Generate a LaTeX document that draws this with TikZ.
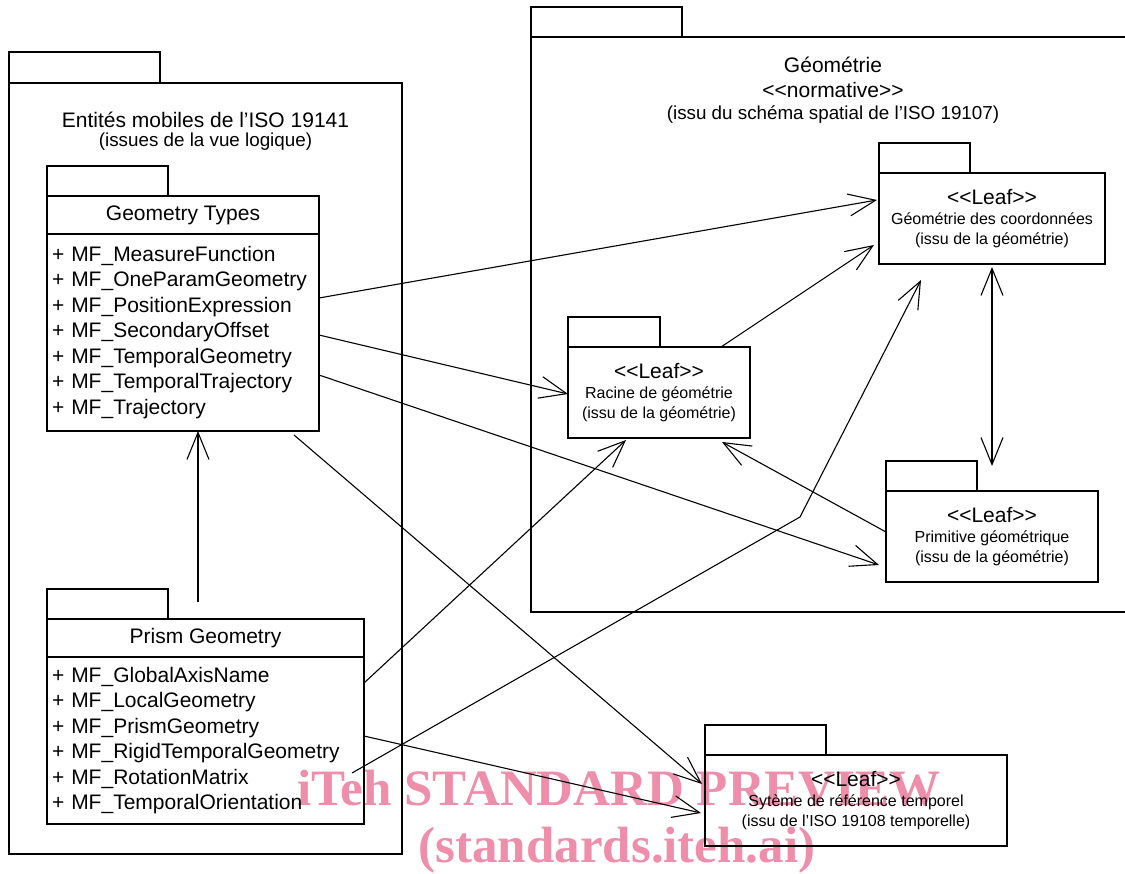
\documentclass[tikz,border=0pt]{standalone}
\usepackage{fontspec}
\setmainfont{Liberation Sans}
\newfontfamily\wmfont{Liberation Serif}
\usepackage{tikz}
\usetikzlibrary{arrows.meta,positioning}

\definecolor{wmpink}{RGB}{238,142,170}
\newcommand\attrfont{\fontsize{21}{25.5}\selectfont}
\newcommand\subfont{\fontsize{18.8}{22}\selectfont}
\newcommand\leaffont{\fontsize{16}{20}\selectfont}
\newcommand\stereo[1]{<\kern0pt<#1>\kern0pt>}

\begin{document}
\begin{tikzpicture}[x=1pt, y=-1pt, line width=1.1pt,
  pkgbox/.style = {draw, rectangle, inner sep=0pt, outer sep=0pt,
    anchor=north west},
  pkgtab/.style = {draw, rectangle, inner sep=0pt, outer sep=0pt,
    anchor=south west, minimum height=30pt},
  leafbox/.style = {pkgbox, align=center, font=\leaffont,
    minimum height=91pt},
  classhead/.style = {pkgbox, font=\attrfont, minimum height=38pt},
  classattr/.style = {draw, rectangle, outer sep=0pt, inner xsep=5pt,
    inner ysep=0pt, align=left, font=\attrfont, anchor=north west},
  title/.style = {inner sep=0pt, font=\attrfont},
  dep/.style = {-{Straight Barb[length=27pt,width=22pt]}},
  watermark/.style = {inner sep=0pt, anchor=base, text=wmpink,
    font=\wmfont\bfseries\fontsize{51}{55}\selectfont}]
  \useasboundingbox (0,0) rectangle (1125,874);

  % watermark
  \node[watermark] (wmtop) at (619,805) {iTeh STANDARD PREVIEW};
  \node[watermark] (wmbot) at (617,862) {(standards.iteh.ai)};

  % left package
  \node[pkgbox, minimum width=393pt, minimum height=771pt] (mobbody) at (9,83) {};
  \node[pkgtab, minimum width=151pt, minimum height=31pt] (mobtab) at (mobbody.north west) {};
  \node[title] (mobtitle) at (205.5,120) {Entités mobiles de l’ISO 19141};
  \node[title, font=\subfont] (mobsub) at (205.5,142) {(issues de la vue logique)};

  \node[classhead, minimum width=272pt] (gthead) at (47,196) {Geometry Types};
  \node[pkgtab, minimum width=121pt] (gttab) at (gthead.north west) {};
  \node[classattr, text width=262pt, minimum height=197pt] (gtattr) at (gthead.south west)
    {+ MF\_MeasureFunction\\ + MF\_OneParamGeometry\\ + MF\_PositionExpression\\
     + MF\_SecondaryOffset\\ + MF\_TemporalGeometry\\ + MF\_TemporalTrajectory\\
     + MF\_Trajectory};

  \node[classhead, minimum width=317pt] (prismhead) at (47,619) {Prism Geometry};
  \node[pkgtab, minimum width=121pt] (prismtab) at (prismhead.north west) {};
  \node[classattr, text width=307pt, minimum height=167pt] (prismattr) at (prismhead.south west)
    {+ MF\_GlobalAxisName\\ + MF\_LocalGeometry\\ + MF\_PrismGeometry\\
     + MF\_RigidTemporalGeometry\\ + MF\_RotationMatrix\\ + MF\_TemporalOrientation};

  % right package
  \node[pkgbox, minimum width=599pt, minimum height=575pt] (geobody) at (531,37) {};
  \node[pkgtab, minimum width=151pt] (geotab) at (geobody.north west) {};
  \node[title] (geotitle) at (833,65) {Géométrie};
  \node[title] (geostereo) at (833,90) {\stereo{normative}};
  \node[title, font=\subfont] (geosub) at (833,115) {(issu du schéma spatial de l’ISO 19107)};

  \node[leafbox, minimum width=226pt] (coordbody) at (879,173)
    {{\attrfont\stereo{Leaf}}\\ Géométrie des coordonnées\\ (issu de la géométrie)};
  \node[pkgtab, minimum width=91pt] (coordtab) at (coordbody.north west) {};

  \node[leafbox, minimum width=182pt] (racinebody) at (568,347)
    {{\attrfont\stereo{Leaf}}\\ Racine de géométrie\\ (issu de la géométrie)};
  \node[pkgtab, minimum width=92pt] (racinetab) at (racinebody.north west) {};

  \node[leafbox, minimum width=212pt] (primbody) at (886,491)
    {{\attrfont\stereo{Leaf}}\\ Primitive géométrique\\ (issu de la géométrie)};
  \node[pkgtab, minimum width=91pt] (primtab) at (primbody.north west) {};

  \node[leafbox, minimum width=302pt] (tempbody) at (705,755)
    {{\attrfont\stereo{Leaf}}\\ Sytème de référence temporel\\ (issu de l’ISO 19108 temporelle)};
  \node[pkgtab, minimum width=121pt] (temptab) at (tempbody.north west) {};

  % dependencies
  \coordinate (bend) at (800,517);
  \draw[dep] ([yshift=-64pt]gtattr.north east) -- ([xshift=-2pt,yshift=-27pt]coordbody.north west);
  \draw[dep] ([yshift=-101pt]gtattr.north east) -- ([yshift=-47pt]racinebody.north west);
  \draw[dep] ([yshift=-141pt]gtattr.north east) -- ([xshift=-7pt,yshift=-74pt]primbody.north west);
  \draw[dep] ([xshift=-25pt,yshift=-4pt]gtattr.south east) -- ([xshift=-3pt,yshift=-29pt]tempbody.north west);
  \draw[dep] ([xshift=151pt,yshift=17pt]prismhead.north west) -- ([xshift=15pt]gtattr.south);
  \draw[dep] ([yshift=-26pt]prismattr.north east) -- ([xshift=58pt,yshift=-2pt]racinebody.south west);
  \draw[dep] ([yshift=-79pt]prismattr.north east) -- ([xshift=-4pt,yshift=-58pt]tempbody.north west);
  \draw[dep] ([xshift=-12pt,yshift=-116pt]prismattr.north east) -- (bend)
    -- ([xshift=42pt,yshift=-16pt]coordbody.south west);
  \draw[dep] ([xshift=-29pt]racinebody.north east) -- ([xshift=-5pt,yshift=-72pt]coordbody.north west);
  \draw[dep] ([yshift=-41pt]primbody.north west) -- ([xshift=-28pt,yshift=-4pt]racinebody.south east);
  \draw[{Straight Barb[length=27pt,width=22pt]}-{Straight Barb[length=27pt,width=22pt]}]
    ([yshift=-3pt]coordbody.south) -- ([yshift=25pt]primbody.north);
\end{tikzpicture}
\end{document}
